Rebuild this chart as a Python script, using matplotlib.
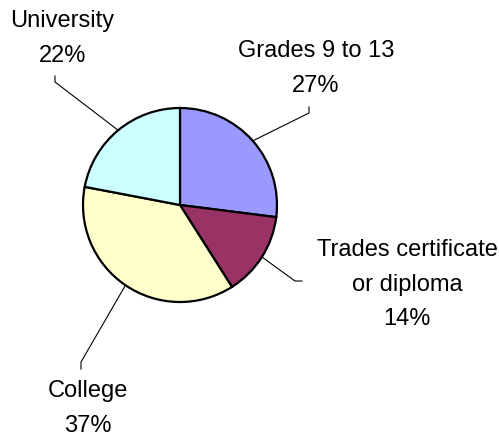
import numpy as np
import matplotlib
matplotlib.use("Agg")
import matplotlib.pyplot as plt

# share of each education level, clockwise from 12 o'clock
labels = ["Grades 9 to 13", "Trades certificate\nor diploma", "College", "University"]
shares = [27, 14, 37, 22]
colors = ["#9999FF", "#993366", "#FFFFCC", "#CCFFFF"]

W, H = 499, 438
plt.rcParams['font.family'] = ['Liberation Sans Narrow', 'Liberation Sans', 'DejaVu Sans']

fig = plt.figure(figsize=(W / 100, H / 100), dpi=100)
ax = fig.add_axes([0, 0, 1, 1])

cx, cy, r = 180, H - 205, 97
wedges, _ = ax.pie(shares, colors=colors, startangle=90, counterclock=False,
                   center=(cx, cy), radius=r,
                   wedgeprops=dict(edgecolor="black", linewidth=1.6))

# label placement: text centre x, first baseline y, leader elbow (pixels from top)
layout = [
    (316, 57, [(309, 107), (309, 113)]),
    (407, 256, [(302, 281), (295, 281)]),
    (87.5, 397, [(81, 369), (81, 362)]),
    (62.5, 27, [(55, 76), (55, 82)]),
]
pitch = 34.5

for w, lab, s, (tx, ty, elbow) in zip(wedges, labels, shares, layout):
    mid = np.deg2rad((w.theta1 + w.theta2) / 2)
    ex, ey = cx + r * np.cos(mid), cy + r * np.sin(mid)
    xs = [p[0] for p in elbow] + [ex]
    ys = [H - p[1] for p in elbow] + [ey]
    ax.plot(xs, ys, color="black", linewidth=0.8)
    lines = lab.split("\n") + ["%d%%" % s]
    for i, line in enumerate(lines):
        ax.text(tx, H - (ty + i * pitch), line, ha="center", va="baseline",
                fontsize=17, color="black")

ax.set_xlim(0, W)
ax.set_ylim(0, H)
ax.set_aspect('equal')
ax.axis('off')

fig.savefig("out.png", dpi=100)
